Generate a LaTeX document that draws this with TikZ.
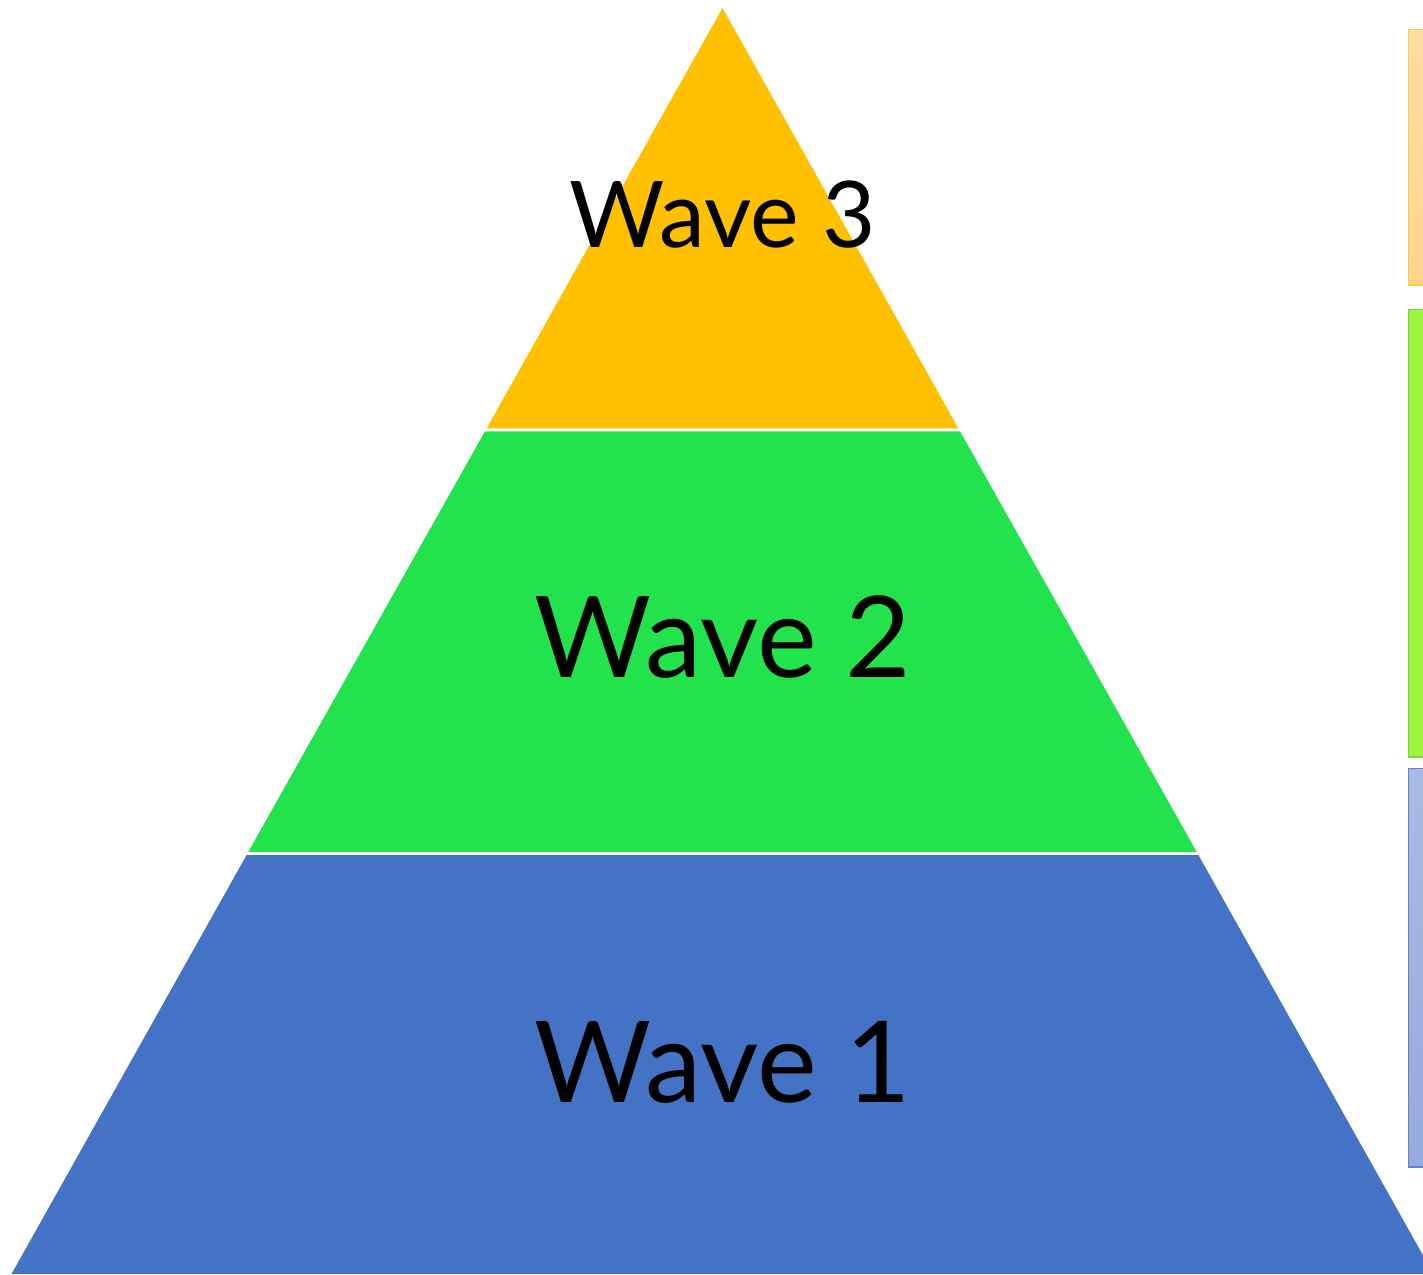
\documentclass[tikz,border=0pt]{standalone}
\usepackage{fontspec}
\setmainfont{Lato}
\definecolor{wyellow}{HTML}{FFC000}
\definecolor{wgreen}{HTML}{22E34C}
\definecolor{wblue}{HTML}{4472C4}
\definecolor{tabY}{HTML}{FFD68A}
\definecolor{tabYb}{HTML}{FFC94D}
\definecolor{tabG}{HTML}{9BF53A}
\definecolor{tabGb}{HTML}{8ACB55}
\definecolor{tabB}{HTML}{9CAEDE}
\definecolor{tabBb}{HTML}{5F82CC}
\tikzset{
  band/.style={draw=none},
  wavelabel/.style={anchor=base, inner sep=0pt, text=black},
  tab/.style={line width=1.5pt}
}
\begin{document}
\begin{tikzpicture}[x=1pt,y=-1pt]
\useasboundingbox (0,0) rectangle (1423,1274);
\clip (0,0) rectangle (1423,1274);
% pyramid bands (slope 0.561 px per px)
\fill[wyellow] (722.5,8) -- (958.3,428.3) -- (486.7,428.3) -- cycle;
\fill[wgreen] (485.0,431.3) -- (960.0,431.3) -- (1196.9,852.2) -- (248.1,852.2) -- cycle;
\fill[wblue] (246.5,855.2) -- (1198.5,855.2) -- (1433.5,1274) -- (11.5,1274) -- cycle;
% labels
\node[wavelabel, font=\fontsize{92}{100}\selectfont] (w3) at (723,247) {Wave 3};
\node[wavelabel, font=\fontsize{113}{120}\selectfont] (w2) at (723,677) {Wave 2};
\node[wavelabel, font=\fontsize{113}{120}\selectfont] (w1) at (723,1102) {Wave 1};
% side tabs
\draw[tab, draw=tabYb, top color=tabY!80!white, bottom color=tabY] (1408.5,29.5) rectangle (1440,285);
\draw[tab, draw=tabGb, fill=tabG] (1408.5,309.5) rectangle (1440,757);
\draw[tab, draw=tabBb, top color=tabB!85!white, bottom color=tabB!90!tabBb] (1408.5,768.5) rectangle (1440,1167);
\end{tikzpicture}
\end{document}
